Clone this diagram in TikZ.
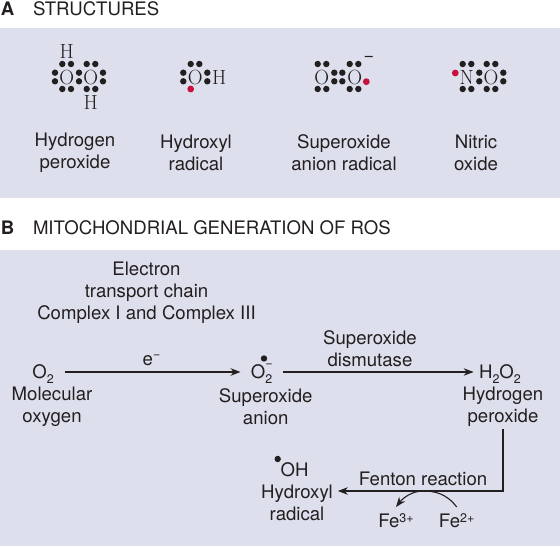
\documentclass[tikz,border=0pt]{standalone}
\usepackage{fontspec}
\setmainfont{TeX Gyre Heros}
\newfontfamily\atomfont{Latin Modern Roman}
\usetikzlibrary{arrows.meta}
\definecolor{panel}{HTML}{DEDFEC}
\definecolor{ink}{HTML}{231F20}
\definecolor{radical}{HTML}{C8103E}
\newcommand{\lowtwo}{\raisebox{-4.5pt}{\fontsize{12.5}{14}\selectfont 2}}
\newcommand{\upnote}[1]{\raisebox{5pt}{\fontsize{12.5}{14}\selectfont #1}}
\tikzset{
  x=1pt, y=-1pt,
  every node/.style={text=ink, inner sep=0pt, outer sep=0pt, font=\fontsize{18.6}{22}\selectfont},
  head/.style={anchor=base west, font=\fontsize{18.6}{20}\selectfont},
  letter/.style={anchor=base west, font=\fontsize{18.6}{20}\selectfont\bfseries},
  lbl/.style={align=center},
  atom/.style={font=\atomfont\fontsize{20.5}{20}\selectfont},
  formula/.style={text height=13pt, text depth=0pt},
  edot/.style={circle, fill=ink, minimum size=6.4pt},
  rdot/.style={circle, fill=radical, minimum size=6.8pt},
  flow/.style={draw=ink, line width=1.1pt, -{Stealth[length=10pt,width=7.5pt]}},
}
\newcommand{\edots}[1]{\foreach \px/\py in {#1} \node[edot] at (\px,\py) {};}
\begin{document}
\begin{tikzpicture}
\useasboundingbox (0,0) rectangle (560,548);
\fill[panel] (0,28) rectangle (560,198);
\fill[panel] (0,250) rectangle (560,546);

\node[letter] (la) at (1,15.5) {A};
\node[head] (ha) at (33,15.5) {STRUCTURES};
\node[letter] (lb) at (1,235) {B};
\node[head] (hb) at (33,235) {MITOCHONDRIAL GENERATION OF ROS};

% Hydrogen peroxide
\node[atom] (h1) at (66.7,52) {H};
\node[atom] (a1) at (66.7,78) {O};
\node[atom] (a2) at (90.7,78) {O};
\node[atom] (h2) at (90.7,102.7) {H};
\edots{62.3/64,71/64,86.7/64,95.3/64,62.3/89,71/89,86.7/89,95.3/89,55/72.7,55/81.3,79/72.7,79/81.3,103/72.7,103/81.3}
\node[lbl] (t1) at (75,153) {Hydrogen\\peroxide};

% Hydroxyl radical
\node[atom] (b1) at (195.3,78) {O};
\node[atom] (b2) at (219.3,78) {H};
\edots{190.7/64,199.3/64,183.3/72.7,183.3/81.3,207.3/72.7,207.3/81.3}
\node[rdot] (r1) at (190.7,89) {};
\node[lbl] (t2) at (196,153) {Hydroxyl\\radical};

% Superoxide anion radical
\node[atom] (c1) at (321.7,78) {O};
\node[atom] (c2) at (354.7,78) {O};
\node[font=\fontsize{18}{20}\selectfont] (c3) at (369,59) {−};
\edots{317.7/64,326.3/64,349.7/64,358.3/64,317.7/89,326.3/89,349.7/89,358.3/89,334.3/72.7,342.3/72.7,334.3/81.3,342.3/81.3}
\node[rdot] (r2) at (366.3,81.7) {};
\node[lbl] (t3) at (344,153) {Superoxide\\anion radical};

% Nitric oxide
\node[atom] (d1) at (466.7,78) {N};
\node[atom] (d2) at (491,78) {O};
\edots{462.7/64,471.3/64,486.7/64,495.3/64,462.7/89,471.3/89,486.7/89,495.3/89,479.3/72.7,479.3/81.3,503.3/72.7,503.3/81.3}
\node[rdot] (r3) at (455.3,73) {};
\node[lbl] (t4) at (476,153) {Nitric\\oxide};

% Panel B
\node[lbl] (etc) at (146.5,292.5) {Electron\\transport chain\\Complex I and Complex III};

\node[formula, inner xsep=11pt] (o2) at (43,372) {O\lowtwo};
\node[lbl] (o2t) at (52,407) {Molecular\\oxygen};

\node[formula, inner xsep=10.5pt] (sa) at (261.7,372) {O\lowtwo};
\node[font=\fontsize{12.5}{14}\selectfont] (sam) at (269,366) {−};
\node[edot] (sad) at (264,358.5) {};
\node[lbl] (sat) at (265.7,407) {Superoxide\\anion};

\node[formula, inner xsep=5.5pt] (hp) at (500,372) {H\lowtwo O\lowtwo};
\node[lbl, outer ysep=2pt] (hpt) at (503,407) {Hydrogen\\peroxide};

\node[formula] (oh) at (294.5,469.5) {OH};
\node[edot] (ohd) at (277.7,459) {};
\node[lbl, inner xsep=5pt] (oht) at (297,503) {Hydroxyl\\radical};

\node[formula, inner ysep=7pt] (f3) at (396,520.5) {Fe\upnote{3+}};
\node[formula, inner ysep=7pt] (f2) at (456.7,520.5) {Fe\upnote{2+}};
\node (fen) at (423,479) {Fenton reaction};
\node[anchor=base] (em) at (151.5,366) {e\raisebox{8pt}{\fontsize{12.5}{14}\selectfont −}};
\node[lbl] (sod) at (370,349) {Superoxide\\dismutase};

\coordinate (arcmid) at (423,491);
\coordinate (corner) at (503,491);

\draw[flow] (o2) -- (sa);
\draw[flow] (sa) -- (hp);
\draw[flow] (hpt.south) -- (corner) -- (oht.east |- corner);
\draw[flow] (f2.north) .. controls (446,493) and (434,491) .. (arcmid) .. controls (412,491) and (403,498) .. (f3.north);
\end{tikzpicture}
\end{document}
